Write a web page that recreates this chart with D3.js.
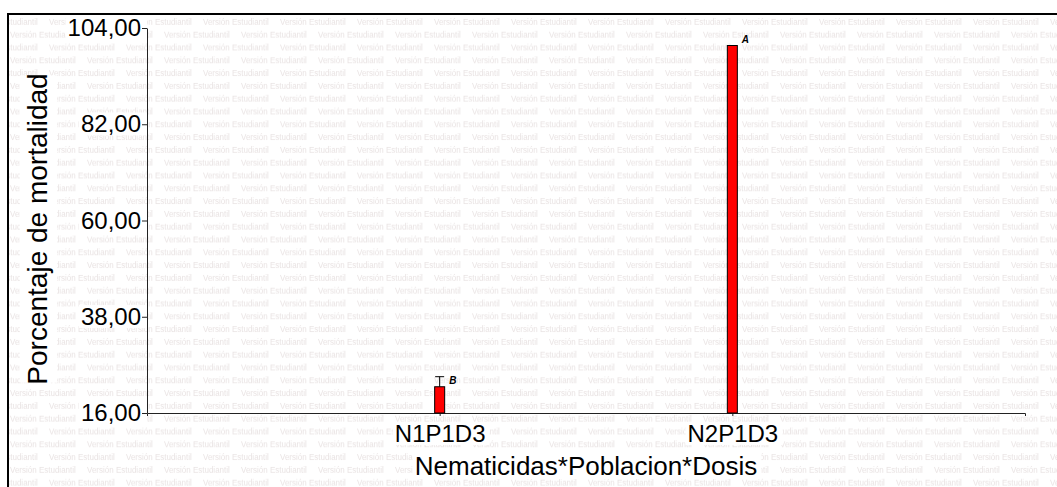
<!DOCTYPE html>
<html>
<head>
<meta charset="utf-8">
<script src="https://cdn.jsdelivr.net/npm/d3@7"></script>
<style>
  body { margin: 0; background: #fff; }
  svg { display: block; font-family: "Liberation Sans", Arial, sans-serif; }
</style>
</head>
<body>
<svg id="chart"></svg>
<script>
// data
var categories = ["N1P1D3", "N2P1D3"];
var means = [22.0, 100.0];
var errors = [2.3, 0];
var letters = ["B", "A"];
var yTicks = [16, 38, 60, 82, 104];
var xTitle = "Nematicidas*Poblacion*Dosis";
var yTitle = "Porcentaje de mortalidad";
var watermark = "Versión Estudiantil";

var svgWidth = 1057, svgHeight = 487;
var margin = { top: 28, right: 32, bottom: 74, left: 147 };
var width = svgWidth - margin.left - margin.right;
var height = svgHeight - margin.top - margin.bottom;

var svg = d3.select("#chart")
    .attr("width", svgWidth)
    .attr("height", svgHeight);

// watermark texture as a repeating pattern (two offset rows per tile)
var defs = svg.append("defs");
var pat = defs.append("pattern")
    .attr("id", "wm")
    .attr("patternUnits", "userSpaceOnUse")
    .attr("x", 0).attr("y", 15)
    .attr("width", 77).attr("height", 25.6);
[[49, 9.5], [10, 22.3]].forEach(function (r) {
    [-77, 0].forEach(function (dx) {
        pat.append("text")
            .attr("x", r[0] + dx)
            .attr("y", r[1])
            .attr("font-size", "8px")
            .attr("fill", "#e9e3e3")
            .text(watermark);
    });
});
svg.append("rect")
    .attr("x", 9).attr("y", 15)
    .attr("width", svgWidth).attr("height", svgHeight)
    .attr("fill", "url(#wm)");

// layer for white boxes behind labels
var bg = svg.append("g");

// frame
svg.append("rect")
    .attr("x", 8).attr("y", 14)
    .attr("width", svgWidth + 20).attr("height", svgHeight + 20)
    .attr("fill", "none")
    .attr("stroke", "#000")
    .attr("stroke-width", 2);

var g = svg.append("g")
    .attr("transform", "translate(" + margin.left + "," + margin.top + ")");

//scales
var x = d3.scalePoint().domain(categories).range([0, width]).padding(1);
var y = d3.scaleLinear().domain([16, 104]).range([height, 0]);

// y axis
var yAxis = g.append("g")
    .call(d3.axisLeft(y)
        .tickValues(yTicks)
        .tickSize(5)
        .tickSizeOuter(0)
        .tickPadding(1)
        .tickFormat(function (d) { return d3.format(".2f")(d).replace(".", ","); }));
yAxis.selectAll("text")
    .attr("font-size", "24px")
    .attr("fill", "#000")
    .classed("boxed ytick", true);
yAxis.selectAll("line, path").attr("stroke", "#222");

// x axis
var xAxis = g.append("g")
    .attr("transform", "translate(0," + height + ")")
    .call(d3.axisBottom(x).tickSize(3).tickSizeOuter(3));
xAxis.selectAll("text")
    .attr("font-size", "24px")
    .attr("fill", "#000")
    .attr("dy", null)
    .attr("y", 29)
    .classed("boxed", true);
xAxis.selectAll("line, path").attr("stroke", "#222");

// axis titles
g.append("text")
    .attr("class", "boxed")
    .attr("x", width / 2)
    .attr("y", height + 62)
    .attr("text-anchor", "middle")
    .attr("font-size", "26px")
    .text(xTitle);

svg.append("text")
    .attr("class", "boxed")
    .attr("transform", "translate(47,229) rotate(-90)")
    .attr("text-anchor", "middle")
    .attr("font-size", "28px")
    .text(yTitle);

// bars
var data = categories.map(function (c, i) {
    return { cat: c, mean: means[i], err: errors[i], letter: letters[i] };
});

g.selectAll(".bar")
    .data(data)
    .enter().append("rect")
    .attr("class", "bar")
    .attr("x", function (d) { return x(d.cat) - 5; })
    .attr("width", 10)
    .attr("y", function (d) { return y(d.mean); })
    .attr("height", function (d) { return y(16) - y(d.mean); })
    .attr("fill", "#ff0000")
    .attr("stroke", "#000")
    .attr("stroke-width", 1);

// error bars
var eb = g.selectAll(".err")
    .data(data.filter(function (d) { return d.err > 0; }))
    .enter().append("g")
    .attr("stroke", "#000")
    .attr("stroke-width", 1);
eb.append("line")
    .attr("x1", function (d) { return x(d.cat); })
    .attr("x2", function (d) { return x(d.cat); })
    .attr("y1", function (d) { return y(d.mean); })
    .attr("y2", function (d) { return y(d.mean + d.err); });
eb.append("line")
    .attr("x1", function (d) { return x(d.cat) - 4.5; })
    .attr("x2", function (d) { return x(d.cat) + 4.5; })
    .attr("y1", function (d) { return y(d.mean + d.err); })
    .attr("y2", function (d) { return y(d.mean + d.err); });

// letters
g.selectAll(".letter")
    .data(data)
    .enter().append("text")
    .attr("x", function (d) { return x(d.cat) + 9.5; })
    .attr("y", function (d) { return y(d.mean) - 3; })
    .attr("font-size", "10px")
    .attr("font-weight", "bold")
    .attr("font-style", "italic")
    .text(function (d) { return d.letter; });

// white boxes behind labels
svg.selectAll("text.boxed").each(function () {
    var b = this.getBoundingClientRect();
    var isY = d3.select(this).classed("ytick");
    var x0 = b.left - 2, x1 = isY ? margin.left : b.right + 4;
    bg.append("rect")
        .attr("x", x0).attr("y", b.top + 2)
        .attr("width", x1 - x0).attr("height", b.height - 4)
        .attr("fill", "#fff");
});
</script>
</body>
</html>
